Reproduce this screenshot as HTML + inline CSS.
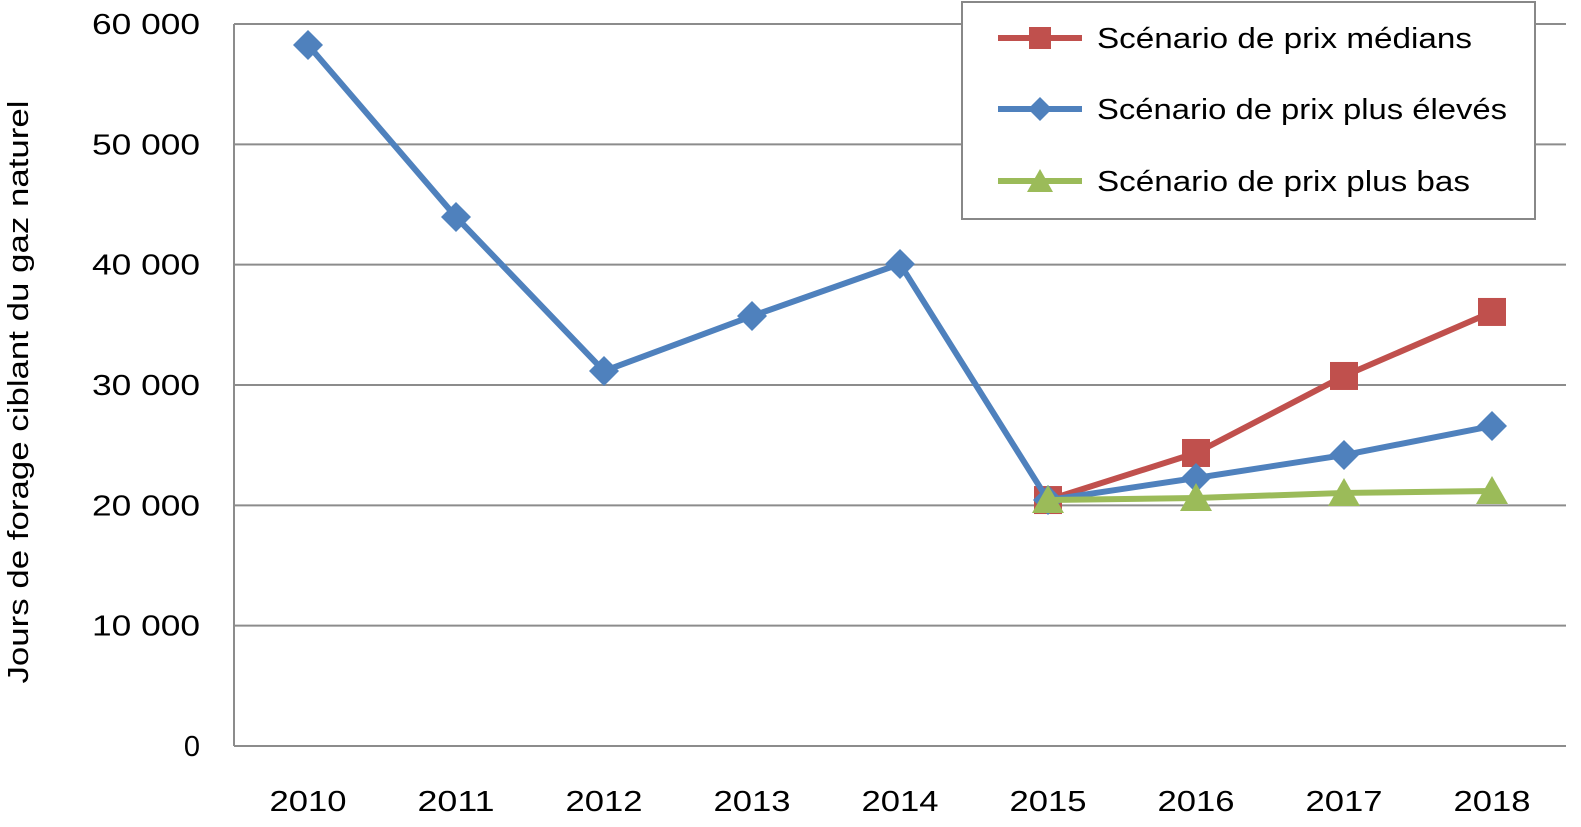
<!DOCTYPE html>
<html><head><meta charset="utf-8">
<style>
html,body{margin:0;padding:0;background:#fff;}
svg{display:block;font-family:"Liberation Sans",sans-serif;}
</style></head>
<body>
<svg id="chart" width="1581" height="827">
<g id="grid"></g>
<g id="axes"></g>
<g id="series"></g>
<text transform="translate(28,392) rotate(-90)" text-anchor="middle" font-size="29" fill="#000" textLength="583" lengthAdjust="spacingAndGlyphs">Jours de forage ciblant du gaz naturel</text>
<g>
<rect x="962" y="2" width="573" height="217" fill="#fff" stroke="#888" stroke-width="2"/>
<g>
<line x1="998" y1="38" x2="1082" y2="38" stroke="#C0504D" stroke-width="6"/>
<rect x="1029" y="27" width="22" height="22" fill="#C0504D"/>
<text x="1097" y="48" font-size="29" textLength="375" lengthAdjust="spacingAndGlyphs">Scénario de prix médians</text></g>
<g>
<line x1="998" y1="109" x2="1082" y2="109" stroke="#4F81BD" stroke-width="6"/>
<polygon points="1040,97 1052,109 1040,121 1028,109" fill="#4F81BD"/>
<text x="1097" y="119" font-size="29" textLength="410" lengthAdjust="spacingAndGlyphs">Scénario de prix plus élevés</text></g>
<g>
<line x1="998" y1="181" x2="1082" y2="181" stroke="#9BBB59" stroke-width="6"/>
<polygon points="1040,169 1053,192 1027,192" fill="#9BBB59"/>
<text x="1097" y="191" font-size="29" textLength="373" lengthAdjust="spacingAndGlyphs">Scénario de prix plus bas</text></g>
</g>
</svg>
<script>
const categories=["2010","2011","2012","2013","2014","2015","2016","2017","2018"];
const highValues=[58260,43960,31160,35730,40060,20440,22270,24180,26590];
const medianValues=[null,null,null,null,null,20440,24350,30750,36070];
const lowValues=[null,null,null,null,null,20440,20610,21030,21190];
const yTicks=[0,10000,20000,30000,40000,50000,60000];
const yTickLabels=["0","10 000","20 000","30 000","40 000","50 000","60 000"];

const NS="http://www.w3.org/2000/svg";
const L=234,R=1566,T=24,B=746,YMAX=60000;
const step=(R-L)/categories.length;
const xs=i=>L+step*(i+0.5);
const ys=v=>B-(v/YMAX)*(B-T);
function mk(tag,attrs,parent){const e=document.createElementNS(NS,tag);for(const k in attrs)e.setAttribute(k,attrs[k]);parent.appendChild(e);return e;}
const grid=document.getElementById('grid'),axes=document.getElementById('axes'),ser=document.getElementById('series');
yTicks.forEach((v,i)=>{
  if(v>0){const g=mk('line',{x1:L,x2:R,y1:ys(v),y2:ys(v),stroke:'#8c8c8c','stroke-width':2},grid);
  
  }
  const lab=yTickLabels[i];
  const attrs={x:200,y:ys(v)+10,'text-anchor':'end','font-size':29};
  if(lab.length>1){attrs.textLength=lab.length===6?108:90;attrs.lengthAdjust='spacingAndGlyphs';}
  const t=mk('text',attrs,axes);
  t.textContent=lab;
  
  
});
mk('line',{x1:L,x2:L,y1:T,y2:B,stroke:'#8c8c8c','stroke-width':2},axes);
mk('line',{x1:L,x2:R,y1:B,y2:B,stroke:'#8c8c8c','stroke-width':2},axes);
categories.forEach((c,i)=>{
  const t=mk('text',{x:xs(i),y:811,'text-anchor':'middle','font-size':29,textLength:77,lengthAdjust:'spacingAndGlyphs'},axes);
  t.textContent=c;
  
  
});
function drawSeries(vals,color,marker,name){
  const g=mk('g',{},ser);
  
  
  const pts=[];vals.forEach((v,i)=>{if(v!==null)pts.push([xs(i),ys(v)]);});
  mk('polyline',{points:pts.map(p=>p.join(',')).join(' '),fill:'none',stroke:color,'stroke-width':6,'stroke-linejoin':'round'},g);
  pts.forEach(([x,y])=>{
    let m;
    if(marker==='square')m=mk('rect',{x:x-14,y:y-14,width:28,height:28,fill:color},g);
    else if(marker==='diamond')m=mk('polygon',{points:`${x},${y-15} ${x+15},${y} ${x},${y+15} ${x-15},${y}`,fill:color},g);
    else m=mk('polygon',{points:`${x},${y-15} ${x+16},${y+13} ${x-16},${y+13}`,fill:color},g);
    
    
  });
}
drawSeries(medianValues,'#C0504D','square','series-medians');
drawSeries(highValues,'#4F81BD','diamond','series-eleves');
drawSeries(lowValues,'#9BBB59','triangle','series-bas');
</script>
</body></html>
